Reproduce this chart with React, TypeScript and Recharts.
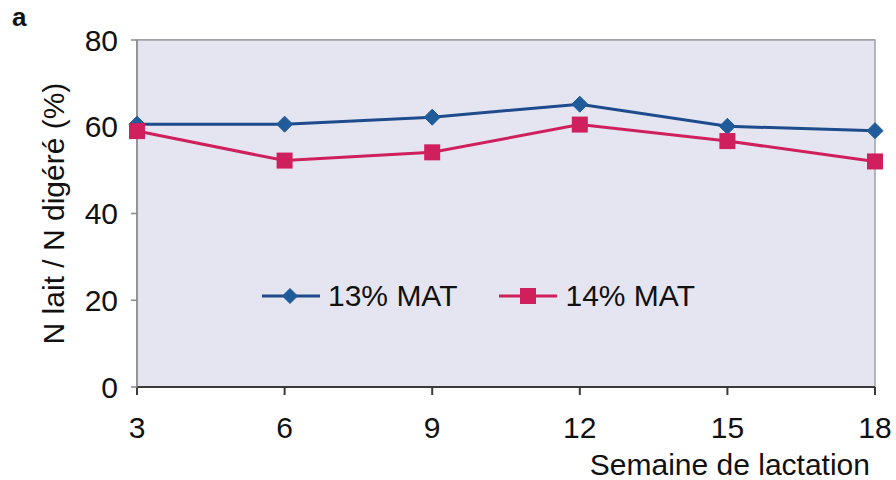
import React from "react";
import { LineChart, Line, XAxis, YAxis, CartesianGrid } from "recharts";

const weeks = [3, 6, 9, 12, 15, 18];
const mat13 = [60.6, 60.6, 62.2, 65.2, 60.1, 59.1];
const mat14 = [59.0, 52.2, 54.1, 60.5, 56.7, 52.0];
const yTicks = [0, 20, 40, 60, 80];
const seriesNames = ["13% MAT", "14% MAT"];

const data = weeks.map((w, i) => ({ week: w, a: mat13[i], b: mat14[i] }));

const BLUE_LINE = "#1d4b8c";
const BLUE_DOT = "#1f5c99";
const RED = "#cf1f5c";
const BG = "#e5e5f1";
const FONT = "'Liberation Sans', Arial, sans-serif";
const FS = 30;

const Diamond = (props: any) => {
  const { cx, cy } = props;
  if (cx == null || cy == null) return null;
  const r = 8;
  return (
    <polygon
      points={`${cx},${cy - r} ${cx + r},${cy} ${cx},${cy + r} ${cx - r},${cy}`}
      fill={BLUE_DOT}
      stroke={BLUE_DOT}
    />
  );
};

const Square = (props: any) => {
  const { cx, cy } = props;
  if (cx == null || cy == null) return null;
  const s = 8;
  return <rect x={cx - s} y={cy - s} width={2 * s} height={2 * s} fill={RED} />;
};

const LegendBox = () => (
  <div
    style={{
      position: "absolute",
      left: 245,
      top: 278,
      background: BG,
      display: "flex",
      alignItems: "center",
      padding: "1px 20px 1px 17px",
      fontFamily: FONT,
      fontSize: FS,
      lineHeight: "34px",
      color: "#111",
      whiteSpace: "nowrap",
    }}
  >
    <svg width={58} height={20} style={{ marginRight: 8 }}>
      <line x1={0} y1={10} x2={58} y2={10} stroke={BLUE_LINE} strokeWidth={3} />
      <polygon points="28,2 36,10 28,18 20,10" fill={BLUE_DOT} />
    </svg>
    <span style={{ marginRight: 42 }}>{seriesNames[0]}</span>
    <svg width={58} height={20} style={{ marginRight: 8 }}>
      <line x1={0} y1={10} x2={58} y2={10} stroke={RED} strokeWidth={3} />
      <rect x={21} y={2} width={16} height={16} fill={RED} />
    </svg>
    <span>{seriesNames[1]}</span>
  </div>
);

export default function App() {
  return (
    <div style={{ position: "absolute", left: 0, top: 0, width: 896, height: 480, background: "#fff" }}>
      <LineChart
        width={896}
        height={480}
        data={data}
        margin={{ top: 40, right: 21, bottom: 0, left: 77 }}
      >
        <rect x={137} y={40} width={738} height={347} fill={BG} stroke="#a0a0a8" strokeWidth={1.5} />
        <CartesianGrid horizontal={true} vertical={false} stroke="#8a8a8a" strokeWidth={1.5} />
        <XAxis
          dataKey="week"
          type="number"
          domain={[3, 18]}
          ticks={weeks}
          height={93}
          tickSize={8}
          tickMargin={22}
          stroke="#3a3a3a"
          strokeWidth={2}
          tick={{ fill: "#111", fontSize: FS, fontFamily: FONT }}
          label={{
            value: "Semaine de lactation",
            position: "insideBottomRight",
            offset: 5,
            fill: "#111",
            fontSize: FS,
            fontFamily: FONT,
          }}
        />
        <YAxis
          width={60}
          domain={[0, 80]}
          ticks={yTicks}
          tickSize={6}
          tickMargin={13}
          stroke="#888"
          strokeWidth={1.5}
          tick={{ fill: "#111", fontSize: FS, fontFamily: FONT }}
          label={{
            value: "N lait / N digéré (%)",
            angle: -90,
            position: "center",
            dx: -54,
            fill: "#111",
            fontSize: FS,
            fontFamily: FONT,
          }}
        />
        <Line
          dataKey="a"
          name={seriesNames[0]}
          stroke={BLUE_LINE}
          strokeWidth={3}
          dot={<Diamond />}
          isAnimationActive={false}
        />
        <Line
          dataKey="b"
          name={seriesNames[1]}
          stroke={RED}
          strokeWidth={3}
          dot={<Square />}
          isAnimationActive={false}
        />
      </LineChart>
      <LegendBox />
      <div
        style={{
          position: "absolute",
          left: 12,
          top: 2,
          fontFamily: FONT,
          fontWeight: "bold",
          fontSize: 26,
          color: "#111",
        }}
      >
        a
      </div>
    </div>
  );
}
